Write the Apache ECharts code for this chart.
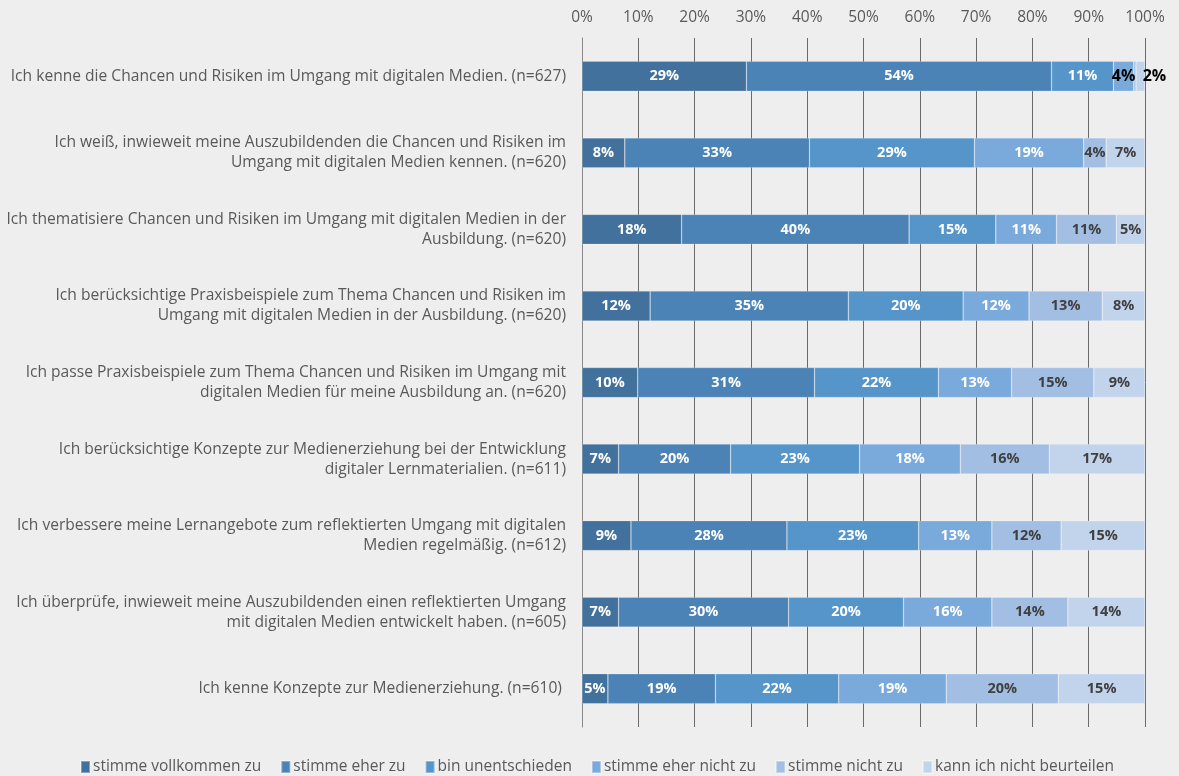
<!DOCTYPE html>
<html>
<head>
<meta charset="utf-8">
<script src="https://cdn.jsdelivr.net/npm/echarts@6/dist/echarts.min.js"></script>
<style>
html,body{margin:0;padding:0;background:#eeeeee;}
#chart{width:1179px;height:776px;}
</style>
</head>
<body>
<div id="chart"></div>
<script>
var categories = [
  "Ich kenne die Chancen und Risiken im Umgang mit digitalen Medien. (n=627)",
  "Ich weiß, inwieweit meine Auszubildenden die Chancen und Risiken im\nUmgang mit digitalen Medien kennen. (n=620)",
  "Ich thematisiere Chancen und Risiken im Umgang mit digitalen Medien in der\nAusbildung. (n=620)",
  "Ich berücksichtige Praxisbeispiele zum Thema Chancen und Risiken im\nUmgang mit digitalen Medien in der Ausbildung. (n=620)",
  "Ich passe Praxisbeispiele zum Thema Chancen und Risiken im Umgang mit\ndigitalen Medien für meine Ausbildung an. (n=620)",
  "Ich berücksichtige Konzepte zur Medienerziehung bei der Entwicklung\ndigitaler Lernmaterialien. (n=611)",
  "Ich verbessere meine Lernangebote zum reflektierten Umgang mit digitalen\nMedien regelmäßig. (n=612)",
  "Ich überprüfe, inwieweit meine Auszubildenden einen reflektierten Umgang\nmit digitalen Medien entwickelt haben. (n=605)",
  "Ich kenne Konzepte zur Medienerziehung. (n=610) "
];
var seriesNames = ["stimme vollkommen zu","stimme eher zu","bin unentschieden","stimme eher nicht zu","stimme nicht zu","kann ich nicht beurteilen"];
var vollkommen   = [29.2, 7.6, 17.7, 12.1,  9.9,  6.5,  8.7,  6.5,  4.6];
var eherZu       = [54.2, 32.8, 40.4, 35.2, 31.4, 19.9, 27.7, 30.2, 19.1];
var unentschieden= [11.0, 29.3, 15.4, 20.4, 22.0, 22.9, 23.4, 20.4, 21.9];
var eherNicht    = [3.6, 19.4, 10.8, 11.7, 13.0, 17.9, 13.0, 15.7, 19.1];
var nichtZu      = [0.4,  4.0, 10.6, 13.0, 14.6, 15.8, 12.3, 13.5, 19.9];
var kannNicht    = [1.6,  6.9,  5.1,  7.6,  9.1, 17.0, 14.9, 13.7, 15.4];
var xTicks = ["0%","10%","20%","30%","40%","50%","60%","70%","80%","90%","100%"];

var values = [vollkommen, eherZu, unentschieden, eherNicht, nichtZu, kannNicht];
var colors = ["#41719c","#4c83b6","#5595ca","#7aaadb","#a2bfe3","#c2d4ec"];
var labelColors = ["#ffffff","#ffffff","#ffffff","#ffffff","#404040","#404040"];
var FONT = "Open Sans";

var series = values.map(function(arr, si){
  return {
    name: seriesNames[si],
    type: 'bar',
    stack: 'total',
    barWidth: 30,
    itemStyle: {color: colors[si], borderColor: 'rgba(255,255,255,0.35)', borderWidth: 0.6},
    label: {
      show: true,
      position: 'inside',
      color: labelColors[si],
      fontFamily: FONT,
      fontWeight: 'bold',
      fontSize: 14.5,
      formatter: function(p){ return p.value < 1 ? '' : Math.round(p.value) + '%'; }
    },
    data: arr.map(function(v, ri){
      if (ri === 0 && (si === 3 || si === 5)) {
        return {value: v, label: {color: '#000000', fontSize: 16, offset: si === 5 ? [14, 0] : [0, 0]}};
      }
      return v;
    })
  };
});

var chart = echarts.init(document.getElementById('chart'));
chart.setOption({
  backgroundColor: '#eeeeee',
  animation: false,
  textStyle: {fontFamily: FONT},
  grid: {left: 582, right: 34, top: 38, bottom: 49, containLabel: false},
  xAxis: {
    type: 'value',
    position: 'top',
    min: 0, max: 100, interval: 10,
    axisLine: {show: false},
    axisTick: {show: false},
    splitLine: {show: true, lineStyle: {color: '#6a6a6a', width: 1}},
    axisLabel: {
      margin: 12,
      color: '#595959',
      fontSize: 15.5,
      fontFamily: FONT,
      formatter: function(v){ return xTicks[Math.round(v/10)]; }
    }
  },
  yAxis: {
    type: 'category',
    inverse: true,
    data: categories,
    axisLine: {show: true, lineStyle: {color: '#8a8a8a', width: 1}},
    axisTick: {show: false},
    axisLabel: {
      margin: 16,
      color: '#595959',
      fontSize: 15.6,
      lineHeight: 20,
      align: 'right',
      fontFamily: FONT
    }
  },
  legend: {
    top: 759,
    left: 80,
    padding: 0,
    itemWidth: 9,
    itemHeight: 12,
    itemGap: 19,
    icon: 'rect',
    textStyle: {color: '#595959', fontSize: 15.5, fontFamily: FONT, padding: [0,0,0,-2]},
    data: seriesNames
  },
  series: series
});
</script>
</body>
</html>
